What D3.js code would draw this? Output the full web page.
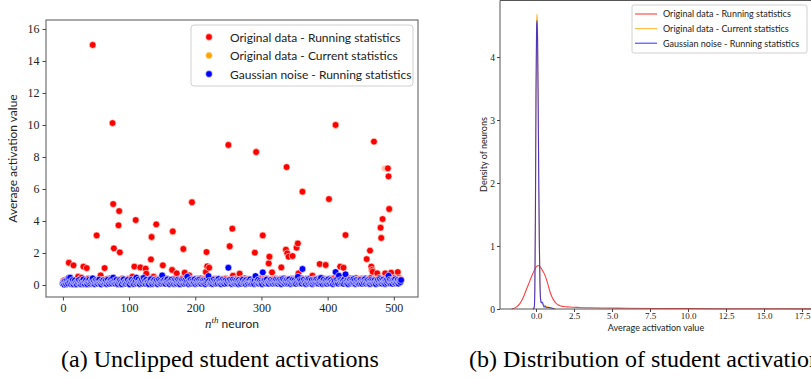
<!DOCTYPE html>
<html lang="en">
<head>
<meta charset="utf-8"/>
<title>Student activations</title>
<style>
    body { margin: 0; background: #fff; }
    svg { display: block; }
    .axis .domain { display: none; }
    .axis .tick line { stroke: #444; }
    .axis .tick text { font-family: "Liberation Serif", serif; fill: #222; }
    .frame { fill: none; stroke: #555; stroke-width: 1; }
    .lab { font-family: Lato, "DejaVu Sans", sans-serif; fill: #222; }
    .caption { font-family: "Liberation Serif", serif; font-size: 24px; fill: #000; }
</style>
</head>
<body>
<svg id="fig" width="811" height="379"></svg>
<script src="https://cdnjs.cloudflare.com/ajax/libs/d3/7.8.5/d3.min.js"></script>
<script>
// ---- data (values x100) ----
// (a) average activation per neuron, 512 neurons
var originalRunning = [
 12,25,8,30,18,5,22,35,14,139,20,9,28,16,33,11,123,24,7,19,31,13,26,52,10,21,38,15,46,27,6,115,
 20,34,9,27,106,15,40,11,29,18,7,32,22,1500,13,36,24,8,30,310,17,26,12,39,21,60,14,28,9,33,19,106,
 25,11,37,16,29,8,22,41,14,31,19,1012,506,229,27,10,35,18,24,7,373,462,204,30,13,26,39,9,21,33,16,28,
 12,30,20,38,8,26,17,34,11,52,23,15,115,29,406,19,36,10,27,14,32,110,21,40,9,25,17,35,13,102,71,22,
 31,15,27,9,36,160,300,20,12,52,28,17,39,379,24,10,33,19,26,8,37,14,29,123,21,35,11,25,18,40,13,30,
 16,34,23,10,28,94,335,19,38,12,26,15,73,31,21,9,36,17,27,13,40,22,225,11,77,30,18,35,8,25,33,60,
 20,12,37,517,26,15,31,9,23,39,14,28,18,34,10,25,41,16,30,12,22,36,19,27,81,206,117,13,33,108,24,17,
 29,11,35,20,14,38,25,9,31,17,27,40,13,22,33,10,26,37,18,29,12,24,39,15,31,21,875,34,242,19,28,11,
 352,58,23,36,14,29,11,40,20,33,16,71,27,9,38,22,13,31,25,42,15,34,19,28,10,37,24,17,32,1580,21,35,
 14,30,202,19,831,26,38,12,33,21,41,16,28,10,310,35,23,13,30,18,39,25,11,135,177,20,34,15,79,27,37,12,
 31,19,40,24,13,35,21,29,10,38,110,17,32,23,42,14,27,221,737,198,36,177,20,33,12,28,39,181,25,16,34,22,
 18,233,30,260,73,22,37,14,29,41,583,26,11,35,20,32,15,39,24,13,30,43,19,27,9,58,33,21,38,16,28,12,
 36,23,40,15,131,28,19,34,11,31,42,21,37,125,25,14,33,20,537,39,16,29,10,35,24,41,18,30,1000,22,38,13,
 27,40,17,115,33,21,42,12,108,29,36,312,19,31,25,38,14,28,41,20,34,11,26,39,17,32,23,43,15,30,21,36,
 24,37,13,30,40,19,33,26,11,42,22,162,35,17,29,38,215,44,115,94,83,31,896,25,40,16,36,73,21,33,45,28,
 358,294,38,412,27,41,729,73,32,45,19,729,679,475,36,24,77,40,28,43,17,35,46,22,39,30,81,26,44,20,37,31
];
// current statistics sit exactly under the running-statistics points
var originalCurrent = originalRunning;
var noiseRunning = [
 8,15,3,22,11,6,27,14,9,44,18,46,7,25,12,31,5,19,28,10,16,4,23,13,30,9,20,6,17,26,11,35,
 14,7,21,29,12,5,24,16,33,9,19,27,37,42,10,22,6,18,31,13,25,8,20,34,11,17,4,26,15,29,9,21,
 12,28,6,19,33,14,8,24,17,36,10,22,46,15,27,9,20,32,13,7,25,18,30,11,23,5,29,16,35,12,21,8,
 26,14,31,9,19,4,27,17,33,11,22,7,29,15,24,46,10,20,34,13,6,25,18,30,9,21,44,14,27,8,32,16,
 11,23,5,28,19,36,12,7,25,17,31,10,22,14,29,6,20,33,13,26,9,18,60,24,11,30,15,8,27,19,35,12,
 21,6,28,15,33,10,24,18,7,30,13,25,9,20,34,14,27,5,22,16,31,11,26,8,19,29,12,23,52,17,6,28,
 14,32,9,21,26,12,18,35,7,24,15,29,10,20,33,13,25,8,22,17,30,11,27,6,19,31,14,23,56,26,9,16,
 12,28,7,20,33,15,24,9,18,30,11,37,22,14,27,6,19,32,13,25,8,21,29,16,10,26,108,17,31,12,23,7,
 20,34,13,26,9,18,29,11,24,6,31,15,22,8,27,17,33,12,19,25,7,30,14,21,10,28,16,35,9,23,13,26,
 18,7,30,56,12,24,15,33,9,21,27,11,19,6,79,25,14,29,10,22,34,13,17,8,26,20,31,12,24,9,28,15,
 22,11,33,16,27,8,19,31,13,25,6,21,36,14,28,10,23,17,30,9,26,12,35,19,7,24,15,32,11,20,29,14,
 8,25,17,52,21,11,30,14,26,9,100,19,33,12,24,7,28,16,22,35,10,27,13,20,31,6,18,29,11,24,15,34,
 12,26,9,21,30,14,44,18,7,27,33,11,23,16,29,8,20,35,13,25,10,31,17,22,6,28,15,24,81,12,33,19,
 9,58,27,14,31,20,11,25,8,34,17,67,22,13,29,6,24,18,32,10,26,15,21,36,12,28,7,19,30,14,23,9,
 25,11,32,17,8,28,20,13,35,22,9,26,15,30,12,24,7,19,33,16,27,10,21,29,14,6,25,18,31,11,23,36,
 13,28,9,20,34,15,26,7,22,30,12,24,58,17,33,10,27,19,8,29,21,14,35,11,25,16,31,9,23,28,18,31
];
// points that show up pale in the picture
var palePoints = [285, 486];

// (b) density curves
var redKdeX = [-1.6,-1.3,-1.05,-0.85,-0.6,-0.4,-0.25,-0.1,0.05,0.15,0.3,0.45,0.6,0.75,0.9,1.05,1.25,1.5,1.8,2.2,2.8,3.5,4.5,6,8,10,12,14,16,18,19.5];
var redKdeY = [0,0.03,0.09,0.18,0.33,0.45,0.54,0.62,0.68,0.69,0.66,0.6,0.53,0.42,0.29,0.19,0.11,0.06,0.04,0.032,0.025,0.02,0.016,0.012,0.009,0.007,0.005,0.004,0.003,0.002,0.001];
var orangeKdeX = [-0.2,-0.1,-0.05,0,0.04,0.07,0.1,0.14,0.18,0.22,0.26,0.3,0.36,0.45,0.6,0.8,1.0,1.3];
var orangeKdeY = [0,0.05,1.0,3.4,4.55,4.68,4.4,3.4,2.1,1.05,0.42,0.16,0.1,0.08,0.05,0.03,0.02,0];
var blueKdeX = [-0.2,-0.12,-0.08,-0.04,0,0.04,0.07,0.1,0.14,0.18,0.22,0.26,0.3,0.34,0.4,0.45,0.5,0.55,0.6,0.65,0.7,0.8,0.9,1.0,1.1,1.2];
var blueKdeY = [0,0.02,0.3,1.5,3.5,4.5,4.58,4.3,3.3,2.0,1.0,0.4,0.15,0.1,0.11,0.09,0.04,0.03,0.045,0.03,0.02,0.025,0.02,0.015,0.008,0];

var seriesNames = ["Original data - Running statistics", "Original data - Current statistics", "Gaussian noise - Running statistics"];
var seriesColors = ["#ff0000", "#ffa500", "#0000ff"];
var xTicksA = [0, 100, 200, 300, 400, 500];
var yTicksA = [0, 2, 4, 6, 8, 10, 12, 14, 16];
var xTicksB = [0, 2.5, 5, 7.5, 10, 12.5, 15, 17.5];
var yTicksB = [0, 1, 2, 3, 4];

var svg = d3.select("#fig");

// ================= (a) scatter =================
var boxA = {left: 46, right: 418, top: 20, bottom: 297};
var xA = d3.scaleLinear().domain([-25.55, 536.55]).range([boxA.left, boxA.right]);
var yA = d3.scaleLinear().domain([-0.75, 16.56]).range([boxA.bottom, boxA.top]);

svg.append("clipPath").attr("id", "clipA")
    .append("rect")
    .attr("x", boxA.left).attr("y", boxA.top)
    .attr("width", boxA.right - boxA.left).attr("height", boxA.bottom - boxA.top);

var gA = svg.append("g").attr("clip-path", "url(#clipA)");

function drawDots(vals, color) {
    gA.append("g").selectAll("circle")
        .data(vals)
        .enter().append("circle")
        .attr("cx", function(d, i) { return xA(i); })
        .attr("cy", function(d) { return yA(d / 100); })
        .attr("r", 3.4)
        .attr("fill", color)
        .attr("fill-opacity", function(d, i) { return palePoints.indexOf(i) >= 0 ? 0.18 : 1; })
        .attr("stroke", "#fff")
        .attr("stroke-width", 0.6);
}
drawDots(originalCurrent, seriesColors[1]);
drawDots(originalRunning, seriesColors[0]);
drawDots(noiseRunning, seriesColors[2]);

svg.append("rect").attr("class", "frame")
    .attr("x", boxA.left).attr("y", boxA.top)
    .attr("width", boxA.right - boxA.left).attr("height", boxA.bottom - boxA.top);

var axA = svg.append("g").attr("class", "axis")
    .attr("transform", "translate(0," + boxA.bottom + ")")
    .call(d3.axisBottom(xA).tickValues(xTicksA).tickSize(3.5).tickPadding(3).tickFormat(d3.format("d")));
axA.selectAll("text").style("font-size", "12px");
var ayA = svg.append("g").attr("class", "axis")
    .attr("transform", "translate(" + boxA.left + ",0)")
    .call(d3.axisLeft(yA).tickValues(yTicksA).tickSize(3.5).tickPadding(3).tickFormat(d3.format("d")));
ayA.selectAll("text").style("font-size", "12px");

svg.append("text").attr("class", "lab")
    .attr("transform", "translate(17," + (boxA.top + boxA.bottom) / 2 + ")rotate(-90)")
    .attr("text-anchor", "middle").style("font-size", "12px")
    .text("Average activation value");

var xl = svg.append("text").attr("class", "lab")
    .attr("x", 232).attr("y", 328)
    .attr("text-anchor", "middle").style("font-size", "12px");
xl.append("tspan").style("font-family", "'Liberation Serif', serif").style("font-style", "italic").style("font-size", "13px").text("n");
xl.append("tspan").attr("dy", -5).style("font-family", "'Liberation Serif', serif").style("font-style", "italic").style("font-size", "9px").text("th");
xl.append("tspan").attr("dy", 5).text(" neuron");

// legend (a)
var legA = svg.append("g");
legA.append("rect")
    .attr("x", 191).attr("y", 25).attr("width", 222).attr("height", 61).attr("rx", 3)
    .attr("fill", "#fff").attr("fill-opacity", 0.8)
    .attr("stroke", "#d0d0d0").attr("stroke-width", 1);
seriesNames.forEach(function(name, i) {
    var y = 37 + i * 18.5;
    legA.append("circle").attr("cx", 209).attr("cy", y).attr("r", 3.4)
        .attr("fill", seriesColors[i]).attr("stroke", "#fff").attr("stroke-width", 0.6);
    legA.append("text").attr("class", "lab")
        .attr("x", 230).attr("y", y + 4.5).style("font-size", "12px")
        .text(name);
});

// ================= (b) density =================
var boxB = {left: 500, right: 832.4, top: 0.5, bottom: 309};
var xB = d3.scaleLinear().domain([-2.37, 19.5]).range([boxB.left, boxB.right]);
var yB = d3.scaleLinear().domain([0, 4.905]).range([boxB.bottom, 0]);

var line = d3.line()
    .x(function(d) { return xB(d[0]); })
    .y(function(d) { return yB(d[1]); })
    .curve(d3.curveMonotoneX);

function drawKde(xs, ys, color, op) {
    svg.append("path")
        .datum(d3.zip(xs, ys))
        .attr("d", line)
        .attr("fill", "none")
        .attr("stroke", color)
        .attr("stroke-opacity", op)
        .attr("stroke-width", 1.1);
}
drawKde(redKdeX, redKdeY, seriesColors[0], 0.75);
drawKde(orangeKdeX, orangeKdeY, seriesColors[1], 0.85);
drawKde(blueKdeX, blueKdeY, seriesColors[2], 0.7);

svg.append("path").attr("class", "frame")
    .attr("d", "M" + boxB.right + "," + boxB.top + "H" + boxB.left + "V" + boxB.bottom + "H" + boxB.right);

var axB = svg.append("g").attr("class", "axis")
    .attr("transform", "translate(0," + boxB.bottom + ")")
    .call(d3.axisBottom(xB).tickValues(xTicksB).tickSize(3).tickPadding(1).tickFormat(d3.format(".1f")));
axB.selectAll("text").style("font-size", "9px");
var ayB = svg.append("g").attr("class", "axis")
    .attr("transform", "translate(" + boxB.left + ",0)")
    .call(d3.axisLeft(yB).tickValues(yTicksB).tickSize(3).tickPadding(2).tickFormat(d3.format("d")));
ayB.selectAll("text").style("font-size", "9.5px");

svg.append("text").attr("class", "lab")
    .attr("x", 656).attr("y", 331)
    .attr("text-anchor", "middle").style("font-size", "9px")
    .text("Average activation value");
svg.append("text").attr("class", "lab")
    .attr("transform", "translate(487," + (boxB.bottom / 2) + ")rotate(-90)")
    .attr("text-anchor", "middle").style("font-size", "9px")
    .text("Density of neurons");

// legend (b)
var legB = svg.append("g");
legB.append("rect")
    .attr("x", 632).attr("y", 5).attr("width", 175).attr("height", 48).attr("rx", 2)
    .attr("fill", "#fff").attr("fill-opacity", 0.8)
    .attr("stroke", "#d0d0d0").attr("stroke-width", 1);
seriesNames.forEach(function(name, i) {
    var y = 14 + i * 14.6;
    legB.append("line").attr("x1", 635).attr("x2", 657).attr("y1", y).attr("y2", y)
        .attr("stroke", seriesColors[i]).attr("stroke-opacity", 0.75).attr("stroke-width", 1.1);
    legB.append("text").attr("class", "lab")
        .attr("x", 663).attr("y", y + 3.3).style("font-size", "9px")
        .text(name);
});

// captions
svg.append("text").attr("class", "caption")
    .attr("x", 61).attr("y", 367)
    .text("(a) Unclipped student activations");
svg.append("text").attr("class", "caption")
    .attr("x", 469).attr("y", 367)
    .text("(b) Distribution of student activations");
</script>
</body>
</html>
